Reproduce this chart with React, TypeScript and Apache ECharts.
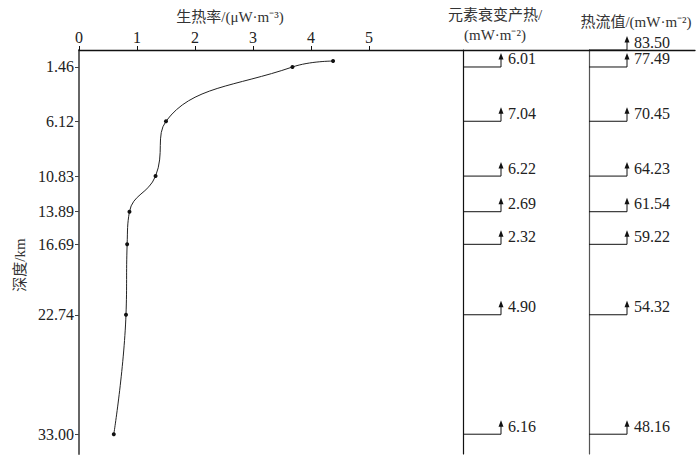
import React, { useEffect, useRef } from "react";
import * as echarts from "echarts";

// Heat generation rate profile (x: μW·m⁻³, y: depth km)
const heatRate = [4.38, 3.68, 1.5, 1.32, 0.87, 0.83, 0.81, 0.6];
const heatRateDepth = [0.95, 1.46, 6.12, 10.83, 13.89, 16.69, 22.74, 33.0];

// Depth tick labels
const depthTicks = [1.46, 6.12, 10.83, 13.89, 16.69, 22.74, 33.0];
const rateTicks = [0, 1, 2, 3, 4, 5];

// Element decay heat (mW·m⁻²)
const decayDepth = [1.46, 6.12, 10.83, 13.89, 16.69, 22.74, 33.0];
const decayValue = [6.01, 7.04, 6.22, 2.69, 2.32, 4.9, 6.16];

// Heat flow (mW·m⁻²)
const flowDepth = [0, 1.46, 6.12, 10.83, 13.89, 16.69, 22.74, 33.0];
const flowValue = [83.5, 77.49, 70.45, 64.23, 61.54, 59.22, 54.32, 48.16];

const FONT = "'Liberation Serif', 'Noto Sans CJK SC', serif";
const DEPTH_MAX = 34.7;

function stepRender(params: any, api: any) {
  const depth = api.value(1);
  const pt = api.coord([0, depth]);
  const x0 = params.coordSys.x;
  const y = pt[1];
  const ax = x0 + 38;
  const stroke = "#111";
  return {
    type: "group",
    children: [
      { type: "line", shape: { x1: x0, y1: y, x2: ax, y2: y }, style: { stroke, lineWidth: 1 } },
      { type: "line", shape: { x1: ax, y1: y, x2: ax, y2: y - 9 }, style: { stroke, lineWidth: 1 } },
      {
        type: "polygon",
        shape: { points: [[ax, y - 14], [ax - 2.5, y - 7.5], [ax + 2.5, y - 7.5]] },
        style: { fill: stroke },
      },
      {
        type: "text",
        x: ax + 7,
        y: y - 8,
        style: {
          text: api.value(2).toFixed(2),
          fill: "#222",
          font: `16px ${FONT}`,
          verticalAlign: "middle",
          align: "left",
        },
      },
    ],
  };
}

export default function App() {
  const ref = useRef<HTMLDivElement>(null);
  useEffect(() => {
    document.body.style.margin = "0";
    const chart = echarts.init(ref.current!, null, { renderer: "svg" });
    const panelGrid = (left: number) => ({ left, top: 50, width: 120, height: 404 });
    const hiddenX = (gridIndex: number) => ({
      type: "value",
      gridIndex,
      min: 0,
      max: 1,
      show: false,
    });
    const panelY = (gridIndex: number, color: string) => ({
      type: "value",
      gridIndex,
      inverse: true,
      min: 0,
      max: DEPTH_MAX,
      axisLine: { show: true, lineStyle: { color, width: 1.2 } },
      axisTick: { show: false },
      axisLabel: { show: false },
      splitLine: { show: false },
    });
    chart.setOption({
      animation: false,
      grid: [
        { left: 79, top: 50, width: 616, height: 404 },
        panelGrid(463),
        panelGrid(589),
      ],
      xAxis: [
        {
          type: "value",
          gridIndex: 0,
          position: "top",
          min: 0,
          max: 616 / 58,
          interval: 1,
          axisLine: { show: true, lineStyle: { color: "#111", width: 1.3 } },
          axisTick: { show: true, length: 4, customValues: rateTicks, lineStyle: { color: "#111" } },
          axisLabel: {
            customValues: rateTicks,
            color: "#222",
            fontSize: 16,
            fontFamily: FONT,
            margin: 5,
          },
          splitLine: { show: false },
        },
        hiddenX(1),
        hiddenX(2),
      ],
      yAxis: [
        {
          type: "value",
          gridIndex: 0,
          inverse: true,
          min: 0,
          max: DEPTH_MAX,
          axisLine: { show: true, lineStyle: { color: "#666", width: 2 } },
          axisTick: { show: true, length: 4, customValues: depthTicks, lineStyle: { color: "#444" } },
          axisLabel: {
            customValues: depthTicks,
            formatter: (v: number) => v.toFixed(2),
            color: "#222",
            fontSize: 16,
            fontFamily: FONT,
            margin: 5,
          },
          splitLine: { show: false },
        },
        panelY(1, "#111"),
        panelY(2, "#555"),
      ],
      series: [
        {
          type: "line",
          xAxisIndex: 0,
          yAxisIndex: 0,
          data: heatRate.map((v, i) => [v, heatRateDepth[i]]),
          smooth: 0.45,
          symbol: "circle",
          symbolSize: 4,
          itemStyle: { color: "#111" },
          lineStyle: { color: "#222", width: 1 },
        },
        {
          type: "custom",
          xAxisIndex: 1,
          yAxisIndex: 1,
          data: decayDepth.map((d, i) => [0, d, decayValue[i]]),
          encode: { x: 0, y: 1 },
          renderItem: stepRender,
          clip: false,
        },
        {
          type: "custom",
          xAxisIndex: 2,
          yAxisIndex: 2,
          data: flowDepth.map((d, i) => [0, d, flowValue[i]]),
          encode: { x: 0, y: 1 },
          renderItem: stepRender,
          clip: false,
        },
      ],
      graphic: [
        {
          type: "text",
          x: 230,
          y: 17,
          style: { text: "生热率/(μW·m⁻³)", font: `15px ${FONT}`, fill: "#333", align: "center", verticalAlign: "middle" },
        },
        {
          type: "text",
          x: 495,
          y: 15,
          style: { text: "元素衰变产热/", font: `15px ${FONT}`, fill: "#333", align: "center", verticalAlign: "middle" },
        },
        {
          type: "text",
          x: 495,
          y: 35,
          style: { text: "(mW·m⁻²)", font: `15px ${FONT}`, fill: "#333", align: "center", verticalAlign: "middle" },
        },
        {
          type: "text",
          x: 636,
          y: 22,
          style: { text: "热流值/(mW·m⁻²)", font: `15px ${FONT}`, fill: "#333", align: "center", verticalAlign: "middle" },
        },
        {
          type: "text",
          x: 20,
          y: 265,
          rotation: Math.PI / 2,
          style: { text: "深度/km", font: `15px ${FONT}`, fill: "#333", align: "center", verticalAlign: "middle" },
        },
      ],
    });
    return () => chart.dispose();
  }, []);
  return <div ref={ref} style={{ width: 700, height: 465, position: "absolute", left: 0, top: 0 }} />;
}
